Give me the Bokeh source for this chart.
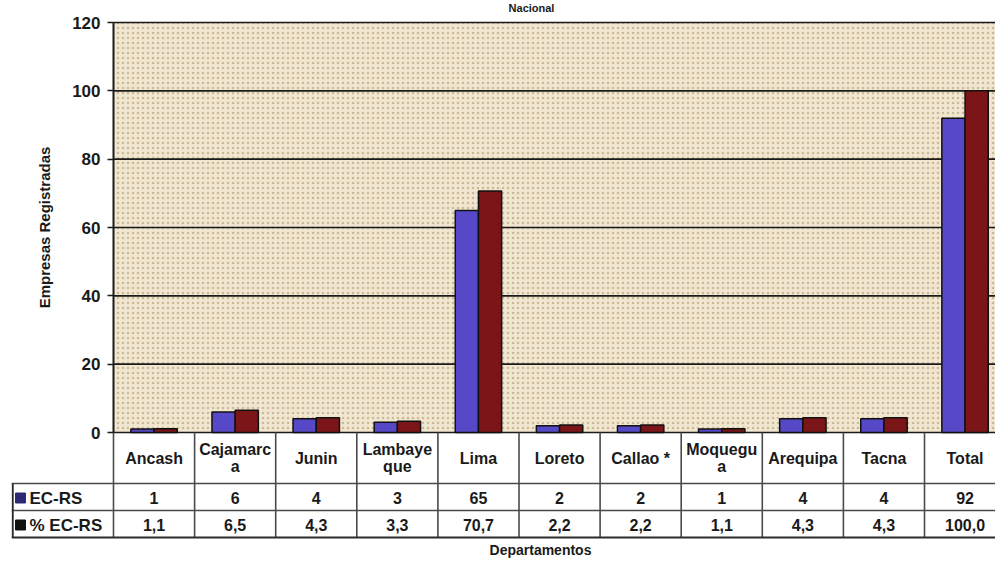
from bokeh.plotting import figure
from bokeh.models import ColumnDataSource, Range1d, FixedTicker, BoxAnnotation
from bokeh.embed import file_html
from bokeh.resources import INLINE
from bokeh.core.properties import value

# ---------------- data ----------------
categories = ["Ancash", "Cajamarc\na", "Junin", "Lambaye\nque", "Lima", "Loreto",
              "Callao *", "Moquegu\na", "Arequipa", "Tacna", "Total"]
ec_rs = [1, 6, 4, 3, 65, 2, 2, 1, 4, 4, 92]
pct_ec_rs = [1.1, 6.5, 4.3, 3.3, 70.7, 2.2, 2.2, 1.1, 4.3, 4.3, 100.0]
series_names = ["EC-RS", "% EC-RS"]
y_ticks = [0, 20, 40, 60, 80, 100, 120]
title_text = "Nacional"
y_label = "Empresas Registradas"
x_label = "Departamentos"

# ---------------- layout constants ----------------
FONT = "Liberation Sans"
W, H = 995, 563
TOP120 = 22               # canvas px of value 120
AXIS_Y = 432              # canvas px of value 0
FRAME_LEFT = 11           # frame left = legend column left (canvas px)
PLOT_LEFT = 113           # canvas px of category 0 (y axis)
CAT_PX = 81.1             # pixels per category
PX_Y = (AXIS_Y - TOP120) / 120.0

x_start = -(PLOT_LEFT - FRAME_LEFT) / CAT_PX
x_end = (W - PLOT_LEFT) / CAT_PX
y_end = 120 + TOP120 / PX_Y
y_start = -(H - AXIS_Y) / PX_Y


def below(px):
    """data y for a position px pixels below the zero line"""
    return -px / PX_Y


BLUE = "#5648c6"
RED = "#7c1518"
INK = "#1a1a1a"
LINE = "#4a4a4a"
BAR_W = 0.286

n = len(categories)
idx = list(range(n))

p = figure(width=W, height=H, output_backend="svg", toolbar_location=None,
           x_range=Range1d(x_start, x_end), y_range=Range1d(y_start, y_end),
           x_axis_location=None, tools="")
p.min_border_left = FRAME_LEFT
p.min_border_right = 0
p.min_border_top = 0
p.min_border_bottom = 0
p.background_fill_color = "white"
p.border_fill_color = "white"
p.outline_line_color = None
p.xgrid.visible = False
p.ygrid.visible = False

# plot area background with speckle texture
p.add_layout(BoxAnnotation(left=0, bottom=0, top=120,
                           fill_color="#f1e6d0", fill_alpha=1.0, line_alpha=0,
                           hatch_pattern="dot", hatch_color="#9c8456",
                           hatch_alpha=0.45, hatch_scale=5, hatch_weight=1.5,
                           level="underlay"))

# chart title (mostly off the top in the reference)
p.text(x=[(531 - PLOT_LEFT) / CAT_PX], y=[120 + 15 / PX_Y], text=[title_text],
       text_font=value(FONT), text_font_style="bold", text_font_size="11px",
       text_align="center", text_baseline="middle", text_color=INK)

# horizontal grid lines (incl. top border and zero line)
p.segment(x0=[0] * len(y_ticks), y0=y_ticks, x1=[x_end] * len(y_ticks), y1=y_ticks,
          line_color=INK, line_width=1.7)

# bars
src = ColumnDataSource(dict(
    xb=[i + 0.5 - BAR_W / 2 for i in idx],
    xr=[i + 0.5 + BAR_W / 2 for i in idx],
    b=ec_rs, r=pct_ec_rs))
p.vbar(x="xb", top="b", width=BAR_W, source=src, fill_color=BLUE,
       line_color="#111111", line_width=1.5)
p.vbar(x="xr", top="r", width=BAR_W, source=src, fill_color=RED,
       line_color="#111111", line_width=1.5)

# y axis drawn at x = 0
ax = p.yaxis[0]
ax.fixed_location = 0
ax.bounds = (0, 120)
ax.ticker = FixedTicker(ticks=y_ticks)
ax.axis_line_color = INK
ax.axis_line_width = 2
ax.major_tick_out = 6
ax.major_tick_in = 0
ax.major_tick_line_color = INK
ax.major_tick_line_width = 1.5
ax.minor_tick_line_color = None
ax.major_label_standoff = 7
ax.major_label_text_font = FONT
ax.major_label_text_font_style = "bold"
ax.major_label_text_font_size = "17px"
ax.major_label_text_color = INK
ax.axis_label = y_label
ax.axis_label_text_font = FONT
ax.axis_label_text_font_style = "bold"
ax.axis_label_text_font_size = "15px"
ax.axis_label_text_color = INK
ax.axis_label_standoff = 16

# ---------------- data table ----------------
ROW1, ROW2, ROW3 = 51, 78, 105     # px below axis: bottoms of header / EC-RS / %

p.segment(x0=idx, y0=[0] * n, x1=idx, y1=[below(ROW3)] * n,
          line_color=LINE, line_width=1.6)
p.segment(x0=[x_start] * 2, y0=[below(ROW1), below(ROW2)],
          x1=[x_end] * 2, y1=[below(ROW1), below(ROW2)],
          line_color=LINE, line_width=1.6)
p.segment(x0=[x_start], y0=[below(ROW3)], x1=[x_end], y1=[below(ROW3)],
          line_color="#2a2a2a", line_width=2)
lb = x_start + 1.2 / CAT_PX
p.segment(x0=[lb], y0=[below(ROW1)], x1=[lb], y1=[below(ROW3)],
          line_color="#2a2a2a", line_width=2)

centers = [i + 0.5 for i in idx]
p.text(x=centers, y=[below(ROW1 / 2)] * n, text=categories,
       text_font=value(FONT), text_font_style="bold", text_font_size="16px",
       text_align="center", text_baseline="middle", text_color=INK,
       text_line_height=1.05)
y_r2 = below((ROW1 + ROW2) / 2 + 1)
y_r3 = below((ROW2 + ROW3) / 2 + 1)
p.text(x=centers, y=[y_r2] * n, text=[str(v) for v in ec_rs],
       text_font=value(FONT), text_font_style="bold", text_font_size="16px",
       text_align="center", text_baseline="middle", text_color=INK)
p.text(x=centers, y=[y_r3] * n,
       text=[f"{v:.1f}".replace(".", ",") for v in pct_ec_rs],
       text_font=value(FONT), text_font_style="bold", text_font_size="16px",
       text_align="center", text_baseline="middle", text_color=INK)

key_x = x_start + 9 / CAT_PX
p.scatter(x=[key_x, key_x], y=[y_r2, y_r3], marker="square", size=10,
          fill_color=["#2e2a72", "#111111"], line_color=["#2e2a72", "#111111"])
p.text(x=[x_start + 18 / CAT_PX] * 2, y=[y_r2, y_r3], text=series_names,
       text_font=value(FONT), text_font_style="bold", text_font_size="17px",
       text_align="left", text_baseline="middle", text_color=INK)

p.text(x=[(540 - PLOT_LEFT) / CAT_PX], y=[below(117)], text=[x_label],
       text_font=value(FONT), text_font_style="bold", text_font_size="14px",
       text_align="center", text_baseline="middle", text_color=INK)

open("out.html", "w").write(file_html(p, INLINE))
